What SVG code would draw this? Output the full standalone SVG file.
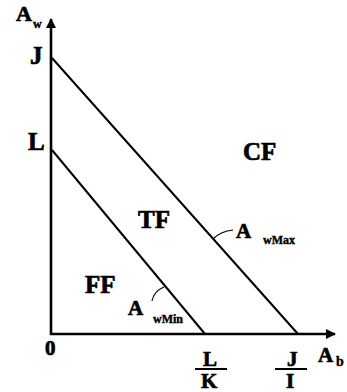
<svg xmlns="http://www.w3.org/2000/svg" width="347" height="392" viewBox="0 0 347 392">
<defs>
<marker id="arr" viewBox="0 0 10 10" refX="9" refY="5" markerWidth="10" markerHeight="10" markerUnits="userSpaceOnUse" orient="auto">
<path d="M0,0 L10,5 L0,10 Z" fill="#000"/>
</marker>
<style>
text{font-family:"Liberation Serif","Times New Roman",serif;font-weight:bold;fill:#000;stroke:#000;stroke-width:0.7}
.big{font-size:25px}
.mid{font-size:21px}
.sub{font-size:12px;stroke-width:0.4}
.ax{stroke:#000;stroke-width:2.6;fill:none}
.ln{stroke:#000;stroke-width:2;fill:none}
.ld{stroke:#000;stroke-width:1.2;fill:none}
</style>
</defs>
<rect width="347" height="392" fill="#fff"/>
<g id="connectors">
<line class="ax" x1="51" y1="335" x2="51" y2="19" marker-end="url(#arr)"/>
<line class="ax" x1="50" y1="334" x2="335" y2="334" marker-end="url(#arr)"/>
<line id="AwMax" class="ln" x1="52" y1="58" x2="298" y2="334"/>
<line id="AwMin" class="ln" x1="52" y1="150" x2="205" y2="334"/>
<path class="ld" d="M213,239 Q221,231 233,230"/>
<path class="ld" d="M152,301 Q154,291 164,287"/>
</g>
<g id="axis-w"><text class="mid" x="16" y="21" style="font-size:22px">A</text><text class="sub" x="33" y="28">w</text></g>
<g id="axis-b"><text class="mid" x="318" y="362">A</text><text class="sub" x="336" y="366" style="font-size:14px">b</text></g>
<g id="J"><text class="big" x="30" y="64">J</text></g>
<g id="L"><text class="big" x="28" y="150">L</text></g>
<g id="zero"><text class="mid" x="45" y="355">0</text></g>
<g id="LK"><text class="mid" x="203" y="366">L</text><line class="ln" x1="195" y1="369" x2="227" y2="369"/><text class="mid" x="201" y="388">K</text></g>
<g id="JI"><text class="mid" x="287" y="366">J</text><line class="ln" x1="275" y1="369" x2="307" y2="369"/><text class="mid" x="286" y="388">I</text></g>
<g id="CF"><text class="big" x="243" y="160">CF</text></g>
<g id="TF"><text class="big" x="138" y="228">TF</text></g>
<g id="FF"><text class="big" x="85" y="293">FF</text></g>
<g id="wMax"><text class="mid" x="236" y="238">A</text><text class="sub" x="263" y="244">wMax</text></g>
<g id="wMin"><text class="mid" x="128" y="315">A</text><text class="sub" x="153" y="323">wMin</text></g>
</svg>
